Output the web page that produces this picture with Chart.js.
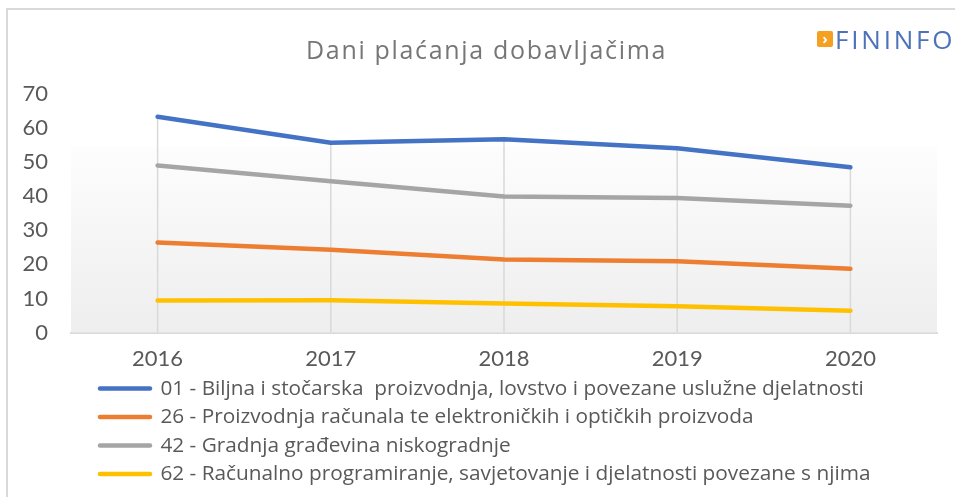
<!DOCTYPE html>
<html>
<head>
<meta charset="utf-8">
<script src="https://cdn.jsdelivr.net/npm/chart.js@4.4.1/dist/chart.umd.min.js"></script>
<style>
  html, body { margin: 0; padding: 0; background: #ffffff; overflow: hidden; }
  #wrap { position: relative; width: 955px; height: 497px; overflow: hidden; }
  #frame { position: absolute; left: 6px; top: 8px; width: 1000px; height: 600px; border: 2px solid #d9d9d9; box-sizing: border-box; }
  canvas { position: absolute; left: 0; top: 0; }
  #logo { position: absolute; left: 817px; top: 29px; height: 22px; white-space: nowrap; font-family: 'Open Sans', sans-serif; }
  #logo .sq { position: absolute; left: 0; top: 2px; width: 16px; height: 16px; background: #f5a020; border-radius: 2px; color: #fff; font-size: 15px; font-weight: bold; line-height: 15px; text-align: center; }
  #logo .tx { position: absolute; left: 18px; top: -8px; font-size: 26px; color: #4d72b8; letter-spacing: 2.8px; }
</style>
</head>
<body>
<div id="wrap">
  <div id="frame"></div>
  <canvas id="c" width="955" height="497"></canvas>
  <div id="logo"><div class="sq">&#8250;</div><div class="tx">FININFO</div></div>
</div>
<script>
const years = ['2016', '2017', '2018', '2019', '2020'];
const s01 = [63.3, 55.7, 56.7, 54.1, 48.5];
const s26 = [26.4, 24.3, 21.4, 20.9, 18.7];
const s42 = [49.0, 44.4, 39.9, 39.5, 37.2];
const s62 = [9.4, 9.5, 8.5, 7.7, 6.4];
const seriesNames = [
  '01 - Biljna i stočarska  proizvodnja, lovstvo i povezane uslužne djelatnosti',
  '26 - Proizvodnja računala te elektroničkih i optičkih proizvoda',
  '42 - Gradnja građevina niskogradnje',
  '62 - Računalno programiranje, savjetovanje i djelatnosti povezane s njima'
];
const titleText = 'Dani plaćanja dobavljačima';
const seriesColors = ['#4472C4', '#ED7D31', '#A5A5A5', '#FFC000'];
const yTicks = [0, 10, 20, 30, 40, 50, 60, 70];

const seriesData = [s01, s26, s42, s62];
const datasets = seriesData.map((d, i) => ({
  label: seriesNames[i],
  data: d,
  borderColor: seriesColors[i],
  backgroundColor: seriesColors[i],
  borderWidth: 4.5,
  borderCapStyle: 'round',
  borderJoinStyle: 'round',
  pointRadius: 0,
  pointHoverRadius: 0,
  pointStyle: 'line',
  tension: 0,
  fill: false
}));

const bgPlugin = {
  id: 'bg',
  beforeDatasetsDraw(chart) {
    const {ctx, chartArea: a, scales} = chart;
    const gTop = a.top + 53;
    const g = ctx.createLinearGradient(0, gTop, 0, a.bottom);
    g.addColorStop(0, '#fdfdfd');
    g.addColorStop(1, '#eeeeee');
    ctx.save();
    ctx.fillStyle = g;
    ctx.fillRect(a.left, gTop, a.right - a.left, a.bottom - gTop);
    ctx.strokeStyle = '#d9d9d9';
    ctx.lineWidth = 1.5;
    years.forEach((y, i) => {
      const maxV = Math.max(...seriesData.map(s => s[i]));
      const x = scales.x.getPixelForValue(i);
      ctx.beginPath();
      ctx.moveTo(x, scales.y.getPixelForValue(maxV));
      ctx.lineTo(x, scales.y.getPixelForValue(0));
      ctx.stroke();
    });
    ctx.restore();
  },
  afterLayout(chart) {
    if (chart.legend) {
      chart.legend.left = 92.3;
    }
  },
  afterDraw(chart) {
    const ctx = chart.ctx;
    ctx.save();
    ctx.font = '25px "Open Sans"';
    ctx.fillStyle = '#767676';
    ctx.textAlign = 'left';
    ctx.textBaseline = 'alphabetic';
    ctx.letterSpacing = '0px';
    const w0 = ctx.measureText(titleText).width;
    const sp = (361 - w0) / titleText.length;
    ctx.letterSpacing = sp.toFixed(2) + 'px';
    ctx.fillText(titleText, 306, 58.5);
    ctx.restore();
  }
};

new Chart(document.getElementById('c'), {
  type: 'line',
  data: { labels: years, datasets },
  plugins: [bgPlugin],
  options: {
    responsive: false,
    animation: false,
    devicePixelRatio: 1,
    layout: { padding: { left: 20, right: 18, top: 10, bottom: 2.5 } },
    plugins: {
      tooltip: { enabled: false },
      title: {
        display: true,
        text: titleText,
        color: 'rgba(0,0,0,0)',
        font: { family: 'Open Sans', size: 23, weight: 'normal' },
        padding: { top: 27, bottom: 29.4 }
      },
      legend: {
        position: 'bottom',
        align: 'start',
        labels: {
          usePointStyle: true,
          pointStyleWidth: 50,
          padding: 7.7,
          color: '#595959',
          font: { family: 'Open Sans', size: 20.8 },
          generateLabels(chart) {
            const items = Chart.defaults.plugins.legend.labels.generateLabels(chart);
            items.forEach(it => {
              const ds = chart.data.datasets[it.datasetIndex];
              it.lineWidth = 4.5;
              it.strokeStyle = ds.borderColor;
              it.fillStyle = ds.borderColor;
              it.lineCap = 'round';
              it.pointStyle = 'line';
            });
            return items;
          }
        }
      }
    },
    scales: {
      x: {
        offset: true,
        grid: { display: false, drawTicks: false },
        border: { display: true, color: '#d9d9d9', width: 2 },
        ticks: { color: '#595959', font: { family: 'Lato', size: 22 }, padding: 13, maxRotation: 0 },
        afterFit(scale) { scale.height = 38; }
      },
      y: {
        min: 0,
        max: 70,
        afterBuildTicks(scale) { scale.ticks = yTicks.map(v => ({ value: v })); },
        grid: { display: false, drawTicks: false },
        border: { display: false },
        ticks: { color: '#595959', font: { family: 'Lato', size: 22 }, padding: 23 },
        afterFit(scale) { scale.width = 51; }
      }
    }
  }
});
</script>
</body>
</html>
